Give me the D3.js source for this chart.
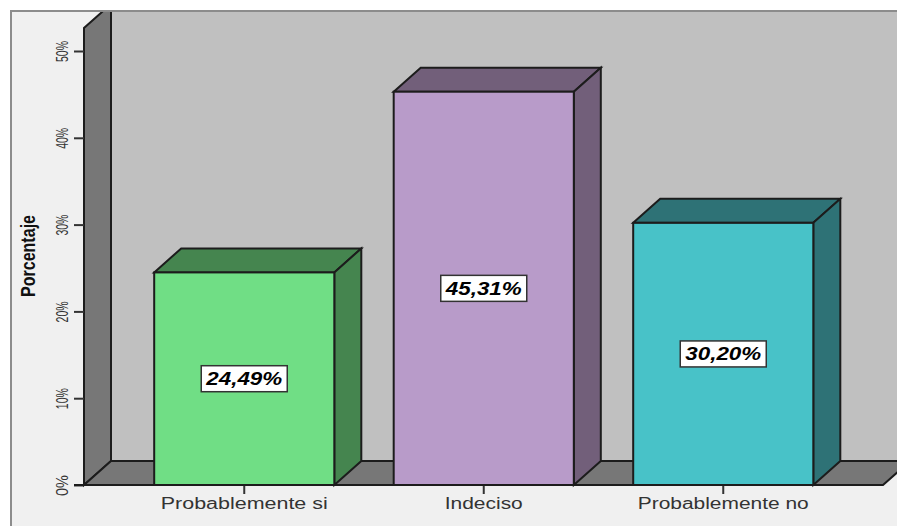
<!DOCTYPE html>
<html><head><meta charset="utf-8">
<script src="https://cdn.jsdelivr.net/npm/d3@7/dist/d3.min.js"></script>
<style>html,body{margin:0;padding:0;background:#fff}svg{display:block}text{font-family:"Liberation Sans",Arial,sans-serif}</style>
</head><body><svg id="c" width="897" height="526"></svg>
<script>
const categories = ["Probablemente si", "Indeciso", "Probablemente no"];
const values = [24.49, 45.31, 30.20];
const valueLabels = ["24,49%", "45,31%", "30,20%"];
const faceColors = ["#70de85", "#b89bc9", "#48c2c8"];
const sideColors = ["#45854f", "#725f7a", "#2e7276"];
const yTicks = [0, 10, 20, 30, 40, 50];
const yAxisTitle = "Porcentaje";

const W = 897, H = 526, dx = 27, dy = 24, ink = "#1c1c1c";
const svg = d3.select("#c");
const y = d3.scaleLinear().domain([0, 50]).range([485, 51]);
const x = d3.scaleBand().domain(categories).range([124.5, 843]).paddingInner(0.248).paddingOuter(0.124);
const line = p => "M" + p.map(q => q.join(",")).join("L") + "Z";

// stretch a text element to a fixed length
const fit = (sel, len) => sel.attr("textLength", len).attr("lengthAdjust", "spacingAndGlyphs");

// panel background and frame
svg.append("rect").attr("x", 11).attr("y", 11).attr("width", W).attr("height", H)
  .attr("fill", "#f0f0f0").attr("stroke", "#8c8c8c").attr("stroke-width", 2);

svg.append("clipPath").attr("id", "plot").append("rect")
  .attr("x", 12).attr("y", 11).attr("width", W).attr("height", H);
const g = svg.append("g").attr("clip-path", "url(#plot)");

const x0 = 84, xBack = x0 + dx, yBase = y(0), yBack = yBase - dy, yTop = y(50) - 23;
const xFloorEnd = 883;

// back wall
g.append("rect").attr("x", xBack).attr("y", 11).attr("width", W).attr("height", yBack - 11).attr("fill", "#c0c0c0");
// left wall
g.append("path").attr("d", line([[x0, yBase], [x0, yTop], [xBack, yTop - dy], [xBack, yBack]]))
  .attr("fill", "#777777").attr("stroke", ink).attr("stroke-width", 2);
// floor
g.append("path").attr("d", line([[x0, yBase], [xBack, yBack], [xFloorEnd + dx, yBack], [xFloorEnd, yBase]]))
  .attr("fill", "#777777").attr("stroke", ink).attr("stroke-width", 2);
svg.append("rect").attr("x", 11).attr("y", 10).attr("width", W).attr("height", 2).attr("fill", "#8c8c8c");

// axes
const yAxis = d3.axisLeft(y).tickValues(yTicks).tickSize(10).tickFormat(d => d + "%");
const ya = svg.append("g").attr("transform", "translate(84,0)").call(yAxis);
ya.select(".domain").remove();
ya.selectAll("line").attr("stroke", "#333").attr("stroke-width", 2);
ya.selectAll("text").attr("x", 0).attr("y", 0).attr("dy", null).attr("fill", "#333")
  .attr("text-anchor", "middle").attr("font-size", 17)
  .attr("transform", "translate(-16,0) rotate(-90)")
  .call(fit, 21);

const xAxis = d3.axisBottom(x).tickSize(9).tickPadding(2);
const xa = svg.append("g").attr("transform", `translate(0,${yBase})`).call(xAxis);
xa.select(".domain").remove();
xa.selectAll("line").attr("stroke", "#333").attr("stroke-width", 2);
const xLens = [167, 78, 171];
xa.selectAll("text").attr("fill", "#333").attr("font-size", 16).attr("dy", null).attr("y", 24)
  .each(function (d, i) { fit(d3.select(this), xLens[i]); });

svg.append("line").attr("x1", 74).attr("x2", xFloorEnd).attr("y1", yBase).attr("y2", yBase)
  .attr("stroke", ink).attr("stroke-width", 2);

svg.append("text").text(yAxisTitle).attr("text-anchor", "middle").attr("font-weight", "bold")
  .attr("font-size", 20).attr("fill", "#111")
  .attr("transform", "translate(35,256) rotate(-90)").call(fit, 82);

// bars
const bars = svg.append("g").selectAll("g").data(values).join("g");
const cat = i => categories[i];
bars.each(function (v, i) {
  const b = d3.select(this), l = x(cat(i)), r = l + x.bandwidth(), t = y(v);
  b.append("path").attr("d", line([[l, t], [l + dx, t - dy], [r + dx, t - dy], [r, t]]))
    .attr("fill", sideColors[i]).attr("stroke", ink).attr("stroke-width", 2);
  b.append("path").attr("d", line([[r, t], [r + dx, t - dy], [r + dx, yBase - dy], [r, yBase]]))
    .attr("fill", sideColors[i]).attr("stroke", ink).attr("stroke-width", 2);
  b.append("rect").attr("x", l).attr("y", t).attr("width", x.bandwidth()).attr("height", yBase - t)
    .attr("fill", faceColors[i]).attr("stroke", ink).attr("stroke-width", 2);
  const cx = l + x.bandwidth() / 2, cy = (t + yBase) / 2;
  b.append("rect").attr("x", cx - 43).attr("y", cy - 13).attr("width", 86).attr("height", 26)
    .attr("fill", "#fff").attr("stroke", "#333").attr("stroke-width", 1.5);
  b.append("text").text(valueLabels[i]).attr("x", cx).attr("y", cy + 6.5).attr("text-anchor", "middle")
    .attr("font-weight", "bold").attr("font-style", "italic").attr("font-size", 19).attr("fill", "#000")
    .call(fit, 76);
});
</script></body></html>
